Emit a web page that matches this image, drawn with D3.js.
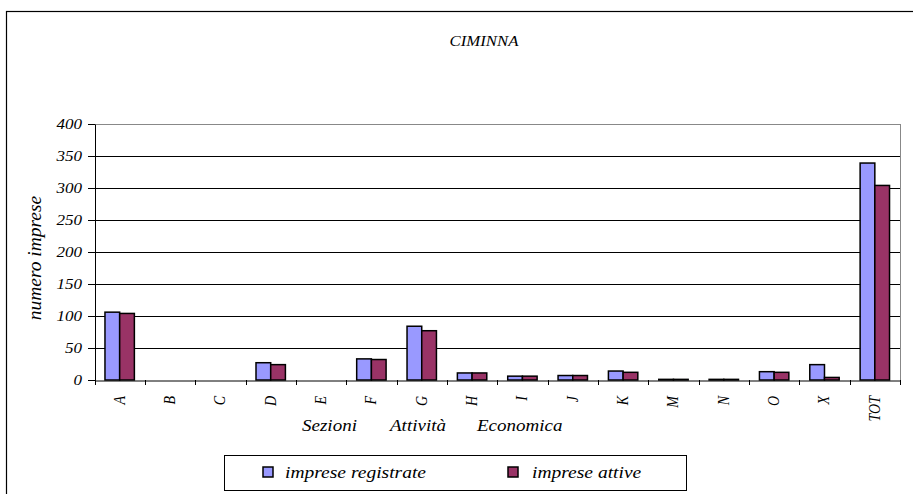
<!DOCTYPE html>
<html><head><meta charset="utf-8">
<script src="https://cdn.jsdelivr.net/npm/d3@7"></script>
<style>body{margin:0;background:#fff}svg{display:block}</style>
</head><body>
<svg id="c" width="913" height="494"></svg>
<script>
const categories = ["A","B","C","D","E","F","G","H","I","J","K","M","N","O","X","TOT"];
const seriesNames = ["imprese registrate","imprese attive"];
const registrate = [106,0,0,27,0,33,84,11,6,7,14,1,1,13,24,339];
const attive =     [104,0,0,24,0,32,77,11,6,7,12,1,1,12,4,304];
const yTicks = [0,50,100,150,200,250,300,350,400];
const colors = ["#9999FF","#993366"];
const chartTitle = "CIMINNA";
const yTitle = "numero imprese";
const xTitleWords = ["Sezioni","Attività","Economica"];

const FONT = "'Liberation Serif', 'Times New Roman', serif";
const svg = d3.select("#c");
const L = 94.5, R = 900, T = 124, B = 380;
function styleText(sel, size){
  return sel.style("font-family",FONT).style("font-style","italic").style("font-size",size+"px").attr("fill","#000");
}

// outer chart frame
svg.append("rect").attr("x",6.5).attr("y",11.5).attr("width",1000).attr("height",600)
  .attr("fill","none").attr("stroke","#000").attr("stroke-width",1.2);

const x0 = d3.scaleBand().domain(categories).range([L,R]).paddingInner(0).paddingOuter(0);
const bw = x0.bandwidth();
const gw = 29.4;
const x1 = d3.scaleBand().domain(seriesNames).range([(bw-gw)/2,(bw+gw)/2]);
const y = d3.scaleLinear().domain([0,400]).range([B,T]);

// gridlines
svg.append("g").selectAll("line").data(yTicks.filter(d=>d>0)).join("line")
  .attr("x1",L).attr("x2",R).attr("y1",d=>Math.round(y(d))+0.5).attr("y2",d=>Math.round(y(d))+0.5)
  .attr("stroke",d=>d===400?"#888":"#000").attr("stroke-width",1);
svg.append("line").attr("x1",R+0.5).attr("x2",R+0.5).attr("y1",T).attr("y2",B).attr("stroke","#888");

// bars
const rows = categories.map((c,i)=>({c, vals:[registrate[i],attive[i]]}));
const g = svg.append("g");
rows.forEach(r=>{
  g.selectAll(null).data(r.vals.map((v,j)=>({v,s:seriesNames[j],j}))).join("rect")
    .attr("x",d=>x0(r.c)+x1(d.s)).attr("width",x1.bandwidth())
    .attr("y",d=>y(d.v)).attr("height",d=>B-y(d.v))
    .attr("fill",d=>colors[d.j]).attr("stroke","#000").attr("stroke-width",1.5);
});

// y axis
const ya = d3.axisLeft(y).tickValues(yTicks).tickSize(7).tickSizeOuter(0);
const yg = svg.append("g").attr("transform",`translate(${L+0.5},0)`).call(ya);
yg.select(".domain").attr("stroke","#000");
yg.selectAll(".tick line").attr("stroke","#000");
styleText(yg.selectAll(".tick text"),14)
  .attr("text-anchor","end").attr("x",0).attr("dy","0.32em")
  .attr("transform","translate(-13,0) scale(1.22,1)");

// x axis
const xa = d3.axisBottom(x0).tickSize(0).tickFormat("");
const xg = svg.append("g").attr("transform",`translate(0,${B+0.5})`).call(xa);
xg.select(".domain").attr("stroke","#000");
svg.append("g").selectAll("line").data(categories.map(c=>x0(c)).concat([R])).join("line")
  .attr("x1",d=>Math.round(d)+0.5).attr("x2",d=>Math.round(d)+0.5).attr("y1",B).attr("y2",B+5).attr("stroke","#000");
styleText(svg.append("g").selectAll("text").data(categories).join("text"),14)
  .attr("transform",d=>`translate(${x0(d)+bw/2+5},${B+16}) rotate(-90) scale(1,1.15)`)
  .attr("text-anchor","end").text(d=>d);

// titles
styleText(svg.append("text"),14).attr("transform","translate(484,46) scale(1.2,1)").attr("text-anchor","middle")
  .text(chartTitle);
styleText(svg.append("text"),18).attr("transform","translate(41,258) rotate(-90) scale(1.08,1)").attr("text-anchor","middle")
  .text(yTitle);
const xtX = [302,390,477];
xTitleWords.forEach((w,i)=>{
  styleText(svg.append("text"),17).attr("transform",`translate(${xtX[i]},431) scale(1.12,1)`).text(w);
});

// legend
svg.append("rect").attr("x",224.5).attr("y",455.5).attr("width",462).attr("height",35)
  .attr("fill","#fff").attr("stroke","#000").attr("stroke-width",1);
const lx = [263,508], ltx=[285,532];
seriesNames.forEach((s,i)=>{
  svg.append("rect").attr("x",lx[i]).attr("y",467).attr("width",10).attr("height",10)
    .attr("fill",colors[i]).attr("stroke","#000").attr("stroke-width",1.5);
  styleText(svg.append("text"),16).attr("transform",`translate(${ltx[i]},478) scale(1.22,1)`).text(s);
});
</script>
</body></html>
